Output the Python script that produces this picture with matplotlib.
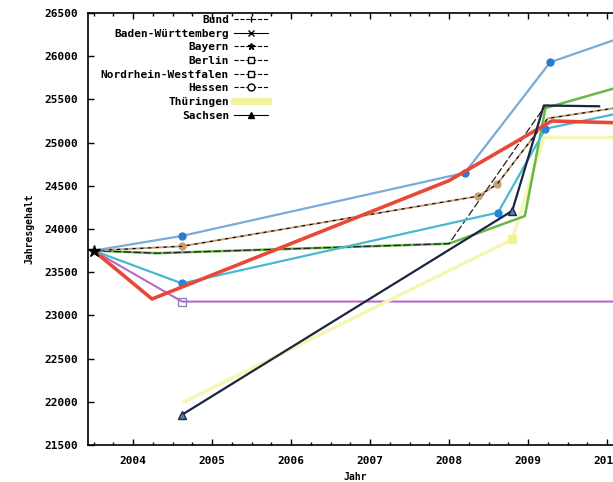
import matplotlib.pyplot as plt
from matplotlib.lines import Line2D
from matplotlib.ticker import MultipleLocator

# Jahresgehalt je Land
bund_x = [2003.5, 2004.3, 2008.0, 2009.22, 2009.9]
bund_y = [23750, 23720, 23830, 25430, 25420]

bw_x = [2003.5, 2004.3, 2008.0, 2008.96, 2009.22, 2010.1]
bw_y = [23750, 23720, 23830, 24150, 25400, 25630]

bayern_x = [2003.5, 2004.62, 2008.2, 2009.28, 2010.1]
bayern_y = [23750, 23920, 24650, 25930, 26190]

berlin_x = [2003.5, 2004.62, 2010.1]
berlin_y = [23750, 23160, 23160]

nrw_x = [2003.5, 2004.62, 2008.62, 2009.22, 2010.1]
nrw_y = [23750, 23370, 24190, 25160, 25330]

hessen_x = [2003.5, 2004.62, 2008.37, 2008.61, 2009.25, 2010.1]
hessen_y = [23750, 23800, 24380, 24520, 25280, 25400]

rot_x = [2003.5, 2004.24, 2008.0, 2009.3, 2010.1]
rot_y = [23750, 23190, 24560, 25250, 25230]

thueringen_x = [2004.65, 2008.8, 2009.2, 2010.1]
thueringen_y = [22000, 23880, 25060, 25060]

sachsen_x = [2004.62, 2008.8, 2009.2, 2009.9]
sachsen_y = [21850, 24210, 25430, 25420]

labels = ['Bund', 'Baden-Württemberg', 'Bayern', 'Berlin',
          'Nordrhein-Westfalen', 'Hessen', 'Thüringen', 'Sachsen']
legend_markers = ['|', 'x', '*', 's', 's', 'o', None, '^']
legend_styles = ['--', '-', '--', '--', '--', '--', '-', '-']

font = ['DejaVu Sans Mono']
plt.rcParams['font.family'] = font
plt.rcParams['font.weight'] = 'bold'

fig = plt.figure(figsize=(6.13, 4.82), dpi=100)
ax = fig.add_axes([88 / 613, 37 / 482, 612 / 613, 432 / 482])

ax.plot(berlin_x, berlin_y, color='#b868c8', lw=1.5, marker='s', mfc='none',
        mec='#8888c0', ms=6, markevery=[1])
ax.plot(thueringen_x, thueringen_y, color='#f6f6b4', lw=2.5, marker='s',
        ms=6, mec='#f2f290', mfc='#f2f290', markevery=[1])
ax.plot(bw_x, bw_y, color='#68b848', lw=1.8)
ax.plot(bund_x, bund_y, color='#202020', lw=0.9, ls=(0, (6, 2)))
ax.plot(nrw_x, nrw_y, color='#48b8d0', lw=1.6, marker='o', ms=5,
        mfc='#2288d8', mec='#2288d8', markevery=[1, 2, 3])
ax.plot(hessen_x, hessen_y, color='#c0a078', lw=1.4, marker='o', ms=5,
        mfc='#c8a070', mec='#c8a070', markevery=[1, 2, 3])
ax.plot(hessen_x, hessen_y, color='black', lw=0.8, ls=(0, (3, 4)))
ax.plot(bayern_x, bayern_y, color='#7aaad8', lw=1.6, marker='o', ms=5,
        mfc='#2a7ad0', mec='#2a7ad0', markevery=[1, 2, 3])
ax.plot(rot_x, rot_y, color='#e84838', lw=2.6)
ax.plot(sachsen_x, sachsen_y, color='#1a2540', lw=1.6, marker='^', ms=6,
        mfc='#5a80b0', mec='#1a2540', markevery=[0, 1])
ax.plot([2003.5], [23750], marker='*', color='black', ms=9)

handles = []
for m, s in zip(legend_markers, legend_styles):
    if m is None:
        handles.append(Line2D([], [], color='#f2f2a0', lw=5))
    else:
        handles.append(Line2D([], [], color='black', lw=0.8, ls=s, marker=m,
                              ms=5, mfc='white' if m in ('s', 'o') else 'black',
                              mec='black'))
ax.legend(handles, labels, loc='upper right',
          bbox_to_anchor=(268 / 613, 1 - 15 / 482),
          bbox_transform=fig.transFigure,
          markerfirst=False, frameon=False, handlelength=3.1,
          handletextpad=0.4, labelspacing=0.33, borderaxespad=0.0,
          borderpad=0.0,
          prop={'family': font, 'size': 8, 'weight': 'bold'})

ax.set_xlim(2003.43, 2003.43 + 612 / 79)
ax.set_ylim(21500, 26500)
ax.xaxis.set_major_locator(MultipleLocator(1))
ax.xaxis.set_minor_locator(MultipleLocator(0.25))
ax.yaxis.set_major_locator(MultipleLocator(500))
ax.tick_params(which='both', direction='in', top=True, right=True,
               labelsize=8, width=1)
ax.tick_params(which='major', length=4)
ax.tick_params(which='minor', length=2)
ax.tick_params(axis='x', pad=8)
ax.tick_params(axis='y', pad=7)
for sp in ax.spines.values():
    sp.set_linewidth(1.2)

ax.set_ylabel('Jahresgehalt', fontsize=7, fontweight='bold')
ax.yaxis.set_label_coords(-0.088, 0.5)
ax.set_xlabel('Jahr', fontsize=7, fontweight='bold')
ax.xaxis.set_label_coords((355 - 88) / 612, -0.062)

fig.savefig('out.png', dpi=100)
